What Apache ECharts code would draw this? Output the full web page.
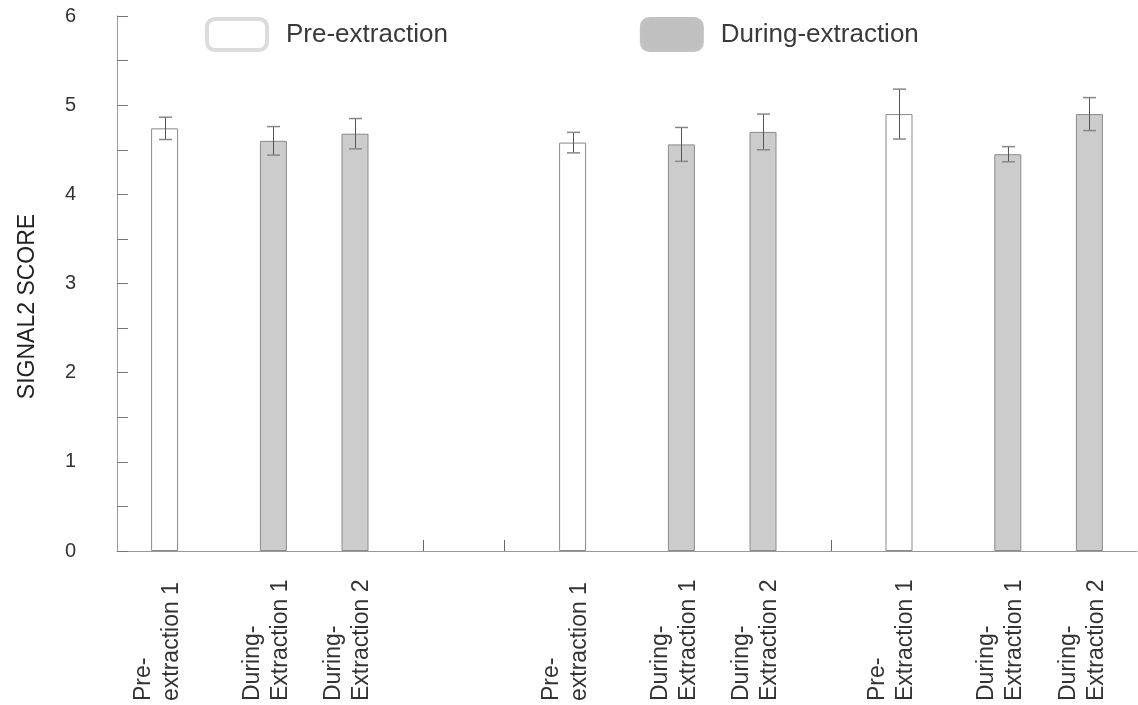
<!DOCTYPE html>
<html>
<head>
<meta charset="utf-8">
<script src="https://cdn.jsdelivr.net/npm/echarts@6/dist/echarts.min.js"></script>
<style>
html,body{margin:0;padding:0;background:#fff;}
#chart{width:1138px;height:705px;}
</style>
</head>
<body>
<div id="chart"></div>
<script>
// ---- data ----
const categories = [
  'Pre-\nextraction 1', 'During-\nExtraction 1', 'During-\nExtraction 2',
  'Pre-\nextraction 1', 'During-\nExtraction 1', 'During-\nExtraction 2',
  'Pre-\nExtraction 1', 'During-\nExtraction 1', 'During-\nExtraction 2'
];
const phases = ['Pre-extraction', 'During-extraction', 'During-extraction',
                'Pre-extraction', 'During-extraction', 'During-extraction',
                'Pre-extraction', 'During-extraction', 'During-extraction'];
const scores = [4.74, 4.60, 4.68, 4.58, 4.56, 4.70, 4.90, 4.45, 4.90];
const errors = [0.125, 0.16, 0.17, 0.115, 0.19, 0.20, 0.28, 0.085, 0.185];
const seriesNames = ['Pre-extraction', 'During-extraction'];
const yTickLabels = ['0', '1', '2', '3', '4', '5', '6'];

// ---- layout (slots on the category axis) ----
const SLOT_COUNT = 75;
const barSlots = [3, 11, 17, 33, 41, 47, 57, 65, 71];
const tickSlots = [22, 28, 52];

const slotLabels = new Array(SLOT_COUNT).fill('');
barSlots.forEach((s, i) => { slotLabels[s] = categories[i]; });
const axisCats = slotLabels.map((_, i) => 's' + i);

function seriesData(name) {
  const arr = new Array(SLOT_COUNT).fill('-');
  barSlots.forEach((s, i) => { if (phases[i] === name) arr[s] = scores[i]; });
  return arr;
}
const errData = barSlots.map((s, i) => [s, scores[i] - errors[i], scores[i] + errors[i]]);

const FONT = '"Liberation Sans", Arial, sans-serif';
const chart = echarts.init(document.getElementById('chart'), null, {renderer: 'canvas'});
chart.setOption({
  animation: false,
  backgroundColor: '#fff',
  textStyle: {fontFamily: FONT},
  legend: {
    left: 205, top: 17, padding: 0,
    itemWidth: 60, itemHeight: 31, itemGap: 192,
    icon: 'roundRect',
    textStyle: {fontSize: 26, color: '#3a3a3a', fontFamily: FONT, padding: [0, 0, 0, 14]},
    data: [
      {name: seriesNames[0], itemStyle: {color: '#fff', borderColor: '#dcdcdc', borderWidth: 4}},
      {name: seriesNames[1], itemStyle: {color: '#c0c0c0', borderColor: '#c2c2c2', borderWidth: 4}}
    ]
  },
  grid: {left: 117, right: 1, top: 16, bottom: 154, containLabel: false, outerBoundsMode: 'none'},
  xAxis: {
    type: 'category',
    data: axisCats,
    boundaryGap: true,
    axisLine: {show: true, lineStyle: {color: '#999', width: 1}},
    axisTick: {
      show: true, inside: true, length: 11, alignWithLabel: true,
      interval: (idx) => tickSlots.indexOf(idx) >= 0,
      lineStyle: {color: '#666'}
    },
    axisLabel: {
      interval: 0, rotate: 90, align: 'left', verticalAlign: 'middle',
      margin: 150, fontSize: 23, lineHeight: 28, color: '#333', fontFamily: FONT,
      rich: {s: {fontSize: 8, lineHeight: 14}},
      formatter: (v, idx) => slotLabels[idx] ? slotLabels[idx] + '\n{s| }' : ''
    },
    splitLine: {show: false}
  },
  yAxis: {
    type: 'value', min: 0, max: 6, interval: 1,
    name: 'SIGNAL2 SCORE', nameLocation: 'middle', nameRotate: 90, nameGap: 78,
    nameTextStyle: {fontSize: 23, color: '#222', fontFamily: FONT, padding: [0, 46, 0, 0]},
    axisLine: {show: true, lineStyle: {color: '#999', width: 1}},
    axisTick: {show: true, inside: true, length: 11, lineStyle: {color: '#777'}},
    minorTick: {show: true, splitNumber: 2, length: 11, lineStyle: {color: '#777'}},
    axisLabel: {fontSize: 20, color: '#333', margin: 41, fontFamily: FONT,
      formatter: (v) => yTickLabels[Math.round(v)]},
    splitLine: {show: false},
    minorSplitLine: {show: false}
  },
  series: [
    {
      name: seriesNames[0], type: 'bar', data: seriesData(seriesNames[0]),
      barWidth: 27, barGap: '-100%',
      itemStyle: {color: '#ffffff', borderColor: '#8a8a8a', borderWidth: 1}
    },
    {
      name: seriesNames[1], type: 'bar', data: seriesData(seriesNames[1]),
      barWidth: 27, barGap: '-100%',
      itemStyle: {color: '#cccccc', borderColor: '#8a8a8a', borderWidth: 1}
    },
    {
      name: 'error', type: 'custom', data: errData, z: 5,
      renderItem: function (params, api) {
        const x = api.value(0);
        const lo = api.coord([x, api.value(1)]);
        const hi = api.coord([x, api.value(2)]);
        const cx = Math.round(lo[0]) + 0.5;
        const half = 6.5;
        const st = {stroke: '#555', lineWidth: 1};
        return {
          type: 'group',
          children: [
            {type: 'line', shape: {x1: cx, y1: hi[1], x2: cx, y2: lo[1]}, style: st},
            {type: 'line', shape: {x1: cx - half, y1: hi[1], x2: cx + half, y2: hi[1]}, style: {stroke: '#888', lineWidth: 1.5}},
            {type: 'line', shape: {x1: cx - half, y1: lo[1], x2: cx + half, y2: lo[1]}, style: {stroke: '#888', lineWidth: 1.5}}
          ]
        };
      }
    }
  ]
});
</script>
</body>
</html>
